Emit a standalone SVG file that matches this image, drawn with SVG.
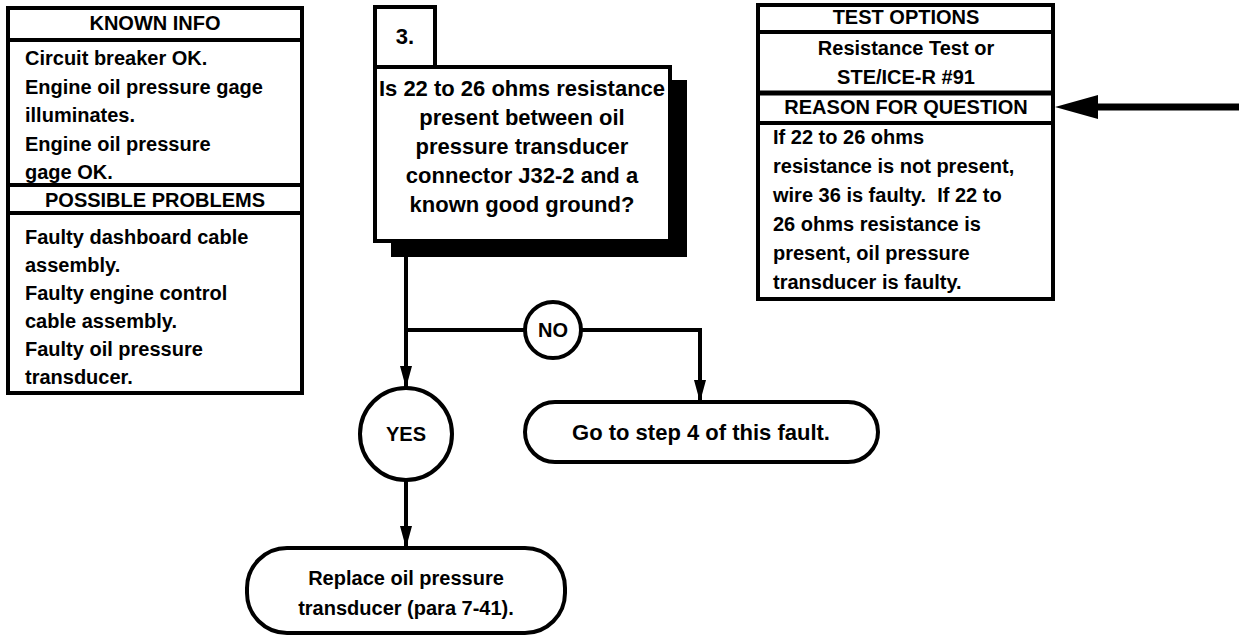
<svg xmlns="http://www.w3.org/2000/svg" width="1239" height="636" viewBox="0 0 1239 636">
  <defs>
    <style>
      text { font-family: "Liberation Sans", Arial, Helvetica, sans-serif; font-weight: bold; font-size: 20px; fill: #000; }
      .c { text-anchor: middle; }
      .q { font-size: 22px; }
      .box { fill: #fff; stroke: #000; stroke-width: 4; }
      .sep { stroke: #000; stroke-width: 4; }
      .wire { fill: none; stroke: #000; stroke-width: 4; }
      .term { fill: #fff; stroke: #000; stroke-width: 4; }
    </style>
    <marker id="arr" viewBox="0 0 22 12" refX="22" refY="6" markerWidth="22" markerHeight="12" markerUnits="userSpaceOnUse" orient="auto">
      <path d="M0,0 L22,6 L0,12 Z" fill="#000"/>
    </marker>
  </defs>

  <!-- Known info / possible problems panel -->
  <g id="known-info">
    <rect class="box" x="8" y="8" width="294" height="385"/>
    <line class="sep" x1="8" y1="40" x2="302" y2="40"/>
    <line class="sep" x1="8" y1="185" x2="302" y2="185"/>
    <line class="sep" x1="8" y1="213" x2="302" y2="213"/>
    <text class="c" x="155" y="30">KNOWN INFO</text>
    <text x="25" y="65">Circuit breaker OK.</text>
    <text x="25" y="93.5">Engine oil pressure gage</text>
    <text x="25" y="122">illuminates.</text>
    <text x="25" y="150.5">Engine oil pressure</text>
    <text x="25" y="179">gage OK.</text>
    <text class="c" x="155" y="207">POSSIBLE PROBLEMS</text>
    <text x="25" y="244">Faulty dashboard cable</text>
    <text x="25" y="272">assembly.</text>
    <text x="25" y="300">Faulty engine control</text>
    <text x="25" y="328">cable assembly.</text>
    <text x="25" y="356">Faulty oil pressure</text>
    <text x="25" y="384">transducer.</text>
  </g>

  <!-- Connectors -->
  <g id="connectors">
    <path class="wire" d="M406,241 V388" marker-end="url(#arr)"/>
    <path class="wire" d="M406,330 H525"/>
    <path class="wire" d="M581,330 H700 V402" marker-end="url(#arr)"/>
    <path class="wire" d="M406,480 V548" marker-end="url(#arr)"/>
    <line x1="1239" y1="107" x2="1096" y2="107" stroke="#000" stroke-width="7"/>
    <polygon points="1055,107 1098,95 1098,119" fill="#000"/>
  </g>

  <!-- Step 3 question -->
  <g id="step3">
    <rect x="391" y="80" width="296" height="177" fill="#000"/>
    <rect class="box" x="375" y="7" width="60" height="60"/>
    <text class="c q" x="405" y="44">3.</text>
    <rect class="box" x="375" y="67" width="295" height="174"/>
    <text class="c q" x="522" y="96">Is 22 to 26 ohms resistance</text>
    <text class="c q" x="522" y="125">present between oil</text>
    <text class="c q" x="522" y="154">pressure transducer</text>
    <text class="c q" x="522" y="183">connector J32-2 and a</text>
    <text class="c q" x="522" y="212">known good ground?</text>
  </g>

  <!-- Test options / reason for question panel -->
  <g id="test-options">
    <rect class="box" x="758" y="5" width="295" height="294"/>
    <line class="sep" x1="758" y1="32" x2="1053" y2="32"/>
    <line x1="758" y1="93" x2="1053" y2="93" stroke="#000" stroke-width="5"/>
    <line class="sep" x1="758" y1="123" x2="1053" y2="123"/>
    <text class="c" x="906" y="24">TEST OPTIONS</text>
    <text class="c" x="906" y="55">Resistance Test or</text>
    <text class="c" x="906" y="84">STE/ICE-R #91</text>
    <text class="c" x="906" y="114">REASON FOR QUESTION</text>
    <text x="773" y="144">If 22 to 26 ohms</text>
    <text x="773" y="173">resistance is not present,</text>
    <text x="773" y="202" xml:space="preserve">wire 36 is faulty.  If 22 to</text>
    <text x="773" y="231">26 ohms resistance is</text>
    <text x="773" y="260">present, oil pressure</text>
    <text x="773" y="289">transducer is faulty.</text>
  </g>

  <!-- Decision labels -->
  <g id="no">
    <circle class="term" cx="553" cy="330" r="28"/>
    <text class="c" x="553" y="337">NO</text>
  </g>
  <g id="yes">
    <circle class="term" cx="406" cy="434" r="46"/>
    <text class="c" x="406" y="441">YES</text>
  </g>

  <!-- Outcomes -->
  <g id="goto-step4">
    <rect class="term" x="525" y="402" width="353" height="60" rx="30"/>
    <text class="c q" x="701" y="440">Go to step 4 of this fault.</text>
  </g>
  <g id="replace-transducer">
    <rect class="term" x="247" y="548" width="318" height="85" rx="40"/>
    <text class="c" x="406" y="585">Replace oil pressure</text>
    <text class="c" x="406" y="615">transducer (para 7-41).</text>
  </g>
</svg>
